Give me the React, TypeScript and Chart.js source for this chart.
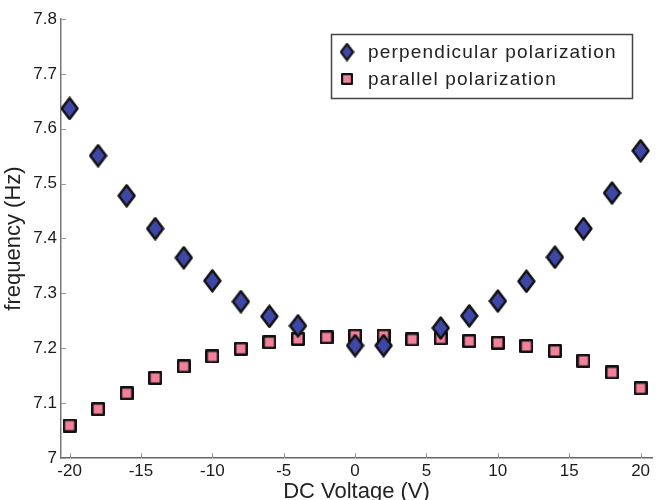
import React, { useEffect, useRef } from 'react';
import { Chart, registerables } from 'chart.js';

Chart.register(...registerables);

// ---- data ----
const voltagePerp = [-20, -18, -16, -14, -12, -10, -8, -6, -4, 0, 2, 6, 8, 10, 12, 14, 16, 18, 20];
const freqPerp = [7.637, 7.551, 7.478, 7.418, 7.365, 7.323, 7.285, 7.258, 7.241, 7.205, 7.205, 7.237, 7.259, 7.286, 7.322, 7.366, 7.418, 7.483, 7.56];
const voltagePar = [-20, -18, -16, -14, -12, -10, -8, -6, -4, -2, 0, 2, 4, 6, 8, 10, 12, 14, 16, 18, 20];
const freqPar = [7.059, 7.089, 7.118, 7.146, 7.167, 7.185, 7.199, 7.211, 7.217, 7.220, 7.223, 7.223, 7.216, 7.218, 7.213, 7.210, 7.204, 7.195, 7.177, 7.156, 7.127];

const xTicks = [-20, -15, -10, -5, 0, 5, 10, 15, 20];
const yTicks = [7, 7.1, 7.2, 7.3, 7.4, 7.5, 7.6, 7.7, 7.8];
const seriesLabels = ['perpendicular polarization', 'parallel polarization'];
const xTitle = 'DC Voltage (V)';
const yTitle = 'frequency (Hz)';

const FONT = "'Liberation Sans', Arial, Helvetica, sans-serif";

function makeDiamond(w: number, h: number, lw: number): HTMLCanvasElement {
  const c = document.createElement('canvas');
  c.width = w;
  c.height = h;
  const g = c.getContext('2d')!;
  const m = lw / 2 + 0.3;
  g.beginPath();
  g.moveTo(w / 2, m);
  g.lineTo(w - m, h / 2);
  g.lineTo(w / 2, h - m);
  g.lineTo(m, h / 2);
  g.closePath();
  g.fillStyle = '#3f47a6';
  g.fill();
  g.lineWidth = lw;
  g.strokeStyle = '#111';
  g.lineJoin = 'round';
  g.stroke();
  return c;
}

function makeSquare(s: number, lw: number): HTMLCanvasElement {
  const c = document.createElement('canvas');
  c.width = s;
  c.height = s;
  const g = c.getContext('2d')!;
  const m = lw / 2;
  g.fillStyle = '#f2819a';
  g.fillRect(m, m, s - lw, s - lw);
  g.lineWidth = lw;
  g.strokeStyle = '#111';
  g.lineJoin = 'round';
  g.strokeRect(m, m, s - lw, s - lw);
  return c;
}

export default function App() {
  const ref = useRef<HTMLCanvasElement | null>(null);

  useEffect(() => {
    if (!ref.current) return;
    const diamond = makeDiamond(19, 24, 2.5);
    const square = makeSquare(14, 2.5);
    const legDiamond = makeDiamond(15, 19, 2.2);
    const legSquare = makeSquare(12, 2.2);

    const inwardTicks = {
      id: 'inwardTicks',
      afterDraw(chart: any) {
        const { ctx, chartArea, scales } = chart;
        ctx.save();
        ctx.strokeStyle = '#9a9a9a';
        ctx.lineWidth = 1;
        for (const v of xTicks) {
          const px = Math.round(scales.x.getPixelForValue(v)) + 0.5;
          ctx.beginPath();
          ctx.moveTo(px, chartArea.bottom);
          ctx.lineTo(px, chartArea.bottom - 5);
          ctx.stroke();
        }
        for (const v of yTicks) {
          const py = Math.round(scales.y.getPixelForValue(v)) + 0.5;
          ctx.beginPath();
          ctx.moveTo(chartArea.left, py);
          ctx.lineTo(chartArea.left + 5, py);
          ctx.stroke();
        }
        ctx.restore();
      },
    };

    const boxLegend = {
      id: 'boxLegend',
      afterDraw(chart: any) {
        const { ctx } = chart;
        ctx.save();
        const x0 = 331, y0 = 34, w = 301, h = 64;
        ctx.fillStyle = '#fff';
        ctx.fillRect(x0, y0, w, h);
        ctx.strokeStyle = '#444';
        ctx.lineWidth = 1.5;
        ctx.strokeRect(x0 + 0.5, y0 + 0.5, w, h);
        const rows = [52, 79];
        const imgs = [legDiamond, legSquare];
        ctx.font = `19px ${FONT}`;
        ctx.fillStyle = '#222';
        ctx.textBaseline = 'middle';
        ctx.textAlign = 'left';
        try { (ctx as any).letterSpacing = '1.2px'; } catch (e) {}
        chart.data.datasets.forEach((ds: any, i: number) => {
          const im = imgs[i];
          ctx.drawImage(im, 347 - im.width / 2, rows[i] - im.height / 2);
          ctx.fillText(ds.label, 368, rows[i] + 1);
        });
        ctx.restore();
      },
    };

    const chart = new Chart(ref.current, {
      type: 'scatter',
      data: {
        datasets: [
          {
            label: seriesLabels[0],
            data: voltagePerp.map((x, i) => ({ x, y: freqPerp[i] })),
            pointStyle: diamond as any,
            pointRadius: 10,
          },
          {
            label: seriesLabels[1],
            data: voltagePar.map((x, i) => ({ x, y: freqPar[i] })),
            pointStyle: square as any,
            pointRadius: 7,
          },
        ],
      },
      options: {
        responsive: false,
        animation: false,
        devicePixelRatio: 1,
        layout: { padding: { top: 19, right: 0, left: 0, bottom: 0 } },
        plugins: {
          legend: { display: false },
          tooltip: { enabled: false },
        },
        scales: {
          x: {
            type: 'linear',
            min: -20.6,
            max: 20.8,
            afterBuildTicks: (s: any) => { s.ticks = xTicks.map((v) => ({ value: v })); },
            afterFit: (s: any) => { s.height = 42; },
            grid: { display: true, drawOnChartArea: false, drawTicks: false },
            border: { color: '#666', width: 1.5 },
            ticks: {
              padding: 3,
              color: '#1a1a1a',
              font: { family: FONT, size: 17 },
              maxRotation: 0,
              autoSkip: false,
              callback: (v: any) => String(v),
            },
            title: {
              display: true,
              text: xTitle,
              color: '#222',
              font: { family: FONT, size: 22 },
              padding: { top: 0, bottom: -5 },
            },
          },
          y: {
            type: 'linear',
            min: 7,
            max: 7.8,
            afterBuildTicks: (s: any) => { s.ticks = yTicks.map((v) => ({ value: v })); },
            afterFit: (s: any) => { s.width = 61; },
            grid: { display: true, drawOnChartArea: false, drawTicks: false },
            border: { color: '#777', width: 1.5 },
            ticks: {
              padding: 4,
              color: '#1a1a1a',
              font: { family: FONT, size: 17 },
              autoSkip: false,
              callback: (v: any) => String(Math.round(Number(v) * 10) / 10),
            },
            title: {
              display: true,
              text: yTitle,
              color: '#222',
              font: { family: FONT, size: 22 },
              padding: { top: 1, bottom: 0 },
            },
          },
        },
      },
      plugins: [inwardTicks, boxLegend],
    });

    return () => chart.destroy();
  }, []);

  return (
    <div style={{ position: 'fixed', left: 0, top: 0, width: 663, height: 500, background: '#fff' }}>
      <canvas ref={ref} width={663} height={500} style={{ display: 'block', width: 663, height: 500 }} />
    </div>
  );
}
